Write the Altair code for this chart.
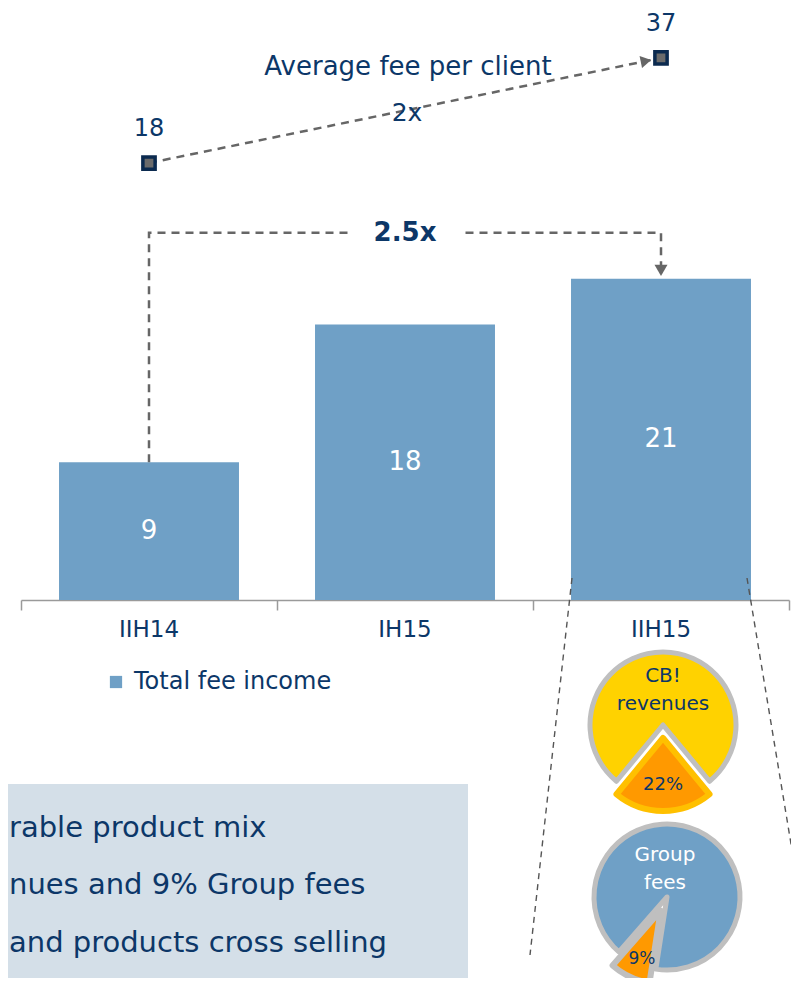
import math
import altair as alt
import pandas as pd

# ---------------- data ----------------
periods = ['IIH14', 'IH15', 'IIH15']
total_fee_income = [9, 18, 21]
avg_fee_periods = ['IIH14', 'IIH15']
avg_fee_per_client = [18, 37]
fee_growth_label = '2.5x'
avg_fee_growth_label = '2x'
avg_fee_title = 'Average fee per client'
legend_label = 'Total fee income'
cb_parts = ['Other', 'CB! revenues']
cb_share = [78, 22]
group_parts = ['Other', 'Group fees']
group_share = [91, 9]
box_lines = ['rable product mix', 'nues and 9% Group fees', 'and products cross selling']

# ---------------- style / layout ----------------
NAVY = '#0c3768'
BAR = '#6fa0c6'
DASH = '#666666'
FONT = 'DejaVu Sans'
W, H = 783, 970
Y0 = 592
PX_PER_UNIT = 15.3

X_SCALE = alt.Scale(domain=periods, range=[13, 781], paddingInner=0, paddingOuter=0)
Y_BAR = alt.Scale(domain=[0, 30], range=[Y0, Y0 - 30 * PX_PER_UNIT])
Y_TOP = alt.Scale(domain=[0, 40], range=[254.5, 33.4])
X_AXIS = alt.Axis(orient='bottom', offset=Y0 - H, bandPosition=1, tickExtra=True,
                  tickSize=10, tickColor='#9a9a9a', tickWidth=1.5,
                  domainColor='#9a9a9a', domainWidth=1.5, grid=False,
                  labelFontSize=23, labelColor=NAVY, labelFont=FONT,
                  labelPadding=8, labelAngle=0, title=None)


def X(field='period'):
    return alt.X(f'{field}:N', scale=X_SCALE, axis=X_AXIS)


one = pd.DataFrame({'k': [0]})

# ---------------- text box (background) ----------------
box = alt.Chart(one).mark_rect(color='#d4dfe8').encode(
    x=alt.value(0), x2=alt.value(460), y=alt.value(776), y2=alt.value(H))
box_text = []
for t, yb in zip(box_lines, [829, 886, 944]):
    box_text.append(alt.Chart(one).mark_text(
        text=t, align='left', baseline='alphabetic', fontSize=29,
        font=FONT, color=NAVY).encode(x=alt.value(1), y=alt.value(yb)))

# ---------------- bars ----------------
bars_df = pd.DataFrame({'period': periods, 'value': total_fee_income,
                        'series': [legend_label] * len(periods)})
bars = alt.Chart(bars_df).mark_bar(width=alt.RelativeBandSize(0.703)).encode(
    x=X(),
    y=alt.Y('value:Q', scale=Y_BAR, axis=None),
    color=alt.Color('series:N', scale=alt.Scale(range=[BAR]),
                    legend=alt.Legend(title=None, orient='none', legendX=96, legendY=662,
                                      symbolType='square', symbolSize=150,
                                      symbolStrokeWidth=0, labelFontSize=24,
                                      labelFont=FONT, labelColor=NAVY, labelLimit=400,
                                      labelOffset=6, padding=0)))
bar_labels = alt.Chart(bars_df).transform_calculate(mid='datum.value / 2').mark_text(
    color='white', fontSize=26, font=FONT, baseline='middle').encode(
    x=X(), y=alt.Y('mid:Q', scale=Y_BAR, axis=None), text='value:Q')

# ---------------- 2.5x bracket ----------------
level = max(total_fee_income) + 3
bracket_df = pd.DataFrame({'period': [periods[0], periods[0], periods[-1], periods[-1]],
                           'v': [total_fee_income[0], level, level, total_fee_income[-1] + 0.9],
                           'o': [0, 1, 2, 3]})
bracket = alt.Chart(bracket_df).mark_line(color=DASH, strokeWidth=2.5, strokeDash=[8, 6]).encode(
    x=X(), y=alt.Y('v:Q', scale=Y_BAR, axis=None), order='o:Q')
gap_df = pd.DataFrame({'period': [periods[1]], 'a': [level - 0.6], 'b': [level + 0.6]})
gap = alt.Chart(gap_df).mark_bar(color='white', width=112).encode(
    x=X(), y=alt.Y('a:Q', scale=Y_BAR, axis=None), y2='b:Q')
g_df = pd.DataFrame({'period': [periods[1]], 'v': [level], 't': [fee_growth_label]})
g_text = alt.Chart(g_df).mark_text(fontSize=26, fontWeight='bold', font=FONT, color=NAVY,
                                   baseline='middle').encode(
    x=X(), y=alt.Y('v:Q', scale=Y_BAR, axis=None), text='t:N')
arr_df = pd.DataFrame({'period': [periods[-1]], 'v': [total_fee_income[-1] + 0.55]})
arrow_down = alt.Chart(arr_df).mark_point(shape='triangle-down', size=170, filled=True,
                                          color=DASH, opacity=1).encode(
    x=X(), y=alt.Y('v:Q', scale=Y_BAR, axis=None))

# ---------------- average fee per client ----------------
avg_df = pd.DataFrame({'period': avg_fee_periods, 'value': avg_fee_per_client})
top_line = alt.Chart(avg_df).mark_line(color=DASH, strokeWidth=2.5, strokeDash=[8, 6]).encode(
    x=X(), y=alt.Y('value:Q', scale=Y_TOP, axis=None))
dxp = 512.0
dyp = (avg_fee_per_client[1] - avg_fee_per_client[0]) * (254.5 - 33.4) / 40
ang = (360 - math.degrees(math.atan2(dyp, dxp))) % 360
top_arrow = alt.Chart(avg_df.iloc[[-1]]).mark_point(
    shape='triangle-right', angle=ang, size=150, filled=True, color=DASH, opacity=1,
    xOffset=-15, yOffset=3).encode(x=X(), y=alt.Y('value:Q', scale=Y_TOP, axis=None))
markers = alt.Chart(avg_df).mark_point(shape='square', size=150, filled=True, fill='#6b6b6b',
                                       stroke='#0b2a4f', strokeWidth=3.5, opacity=1).encode(
    x=X(), y=alt.Y('value:Q', scale=Y_TOP, axis=None))
marker_labels = alt.Chart(avg_df).mark_text(dy=-34, fontSize=24, font=FONT, color=NAVY,
                                            baseline='middle').encode(
    x=X(), y=alt.Y('value:Q', scale=Y_TOP, axis=None), text='value:Q')
top_title = alt.Chart(one).mark_text(text=avg_fee_title, fontSize=26, font=FONT, color=NAVY,
                                     baseline='middle').encode(x=alt.value(400), y=alt.value(59))
top_growth = alt.Chart(one).mark_text(text=avg_fee_growth_label, fontSize=25, font=FONT,
                                      color=NAVY, baseline='middle').encode(
    x=alt.value(399), y=alt.value(105))

# ---------------- pies ----------------
def pie(parts, shares, cx, cy, center_deg, explode, fill_main, fill_hi, stroke_hi,
        name_xy, name_color, pct_xy, pct_size, r=73):
    cum = [0]
    for s in shares:
        cum.append(cum[-1] + s)
    df = pd.DataFrame({'part': parts, 'share': shares, 'start': cum[:-1], 'end': cum[1:]})
    hi_frac = shares[-1] / sum(shares)
    start = math.radians(center_deg + hi_frac * 180)
    sc = alt.Scale(domain=[0, sum(shares)], range=[start, start + 2 * math.pi])
    main = alt.Chart(df.iloc[[0]]).mark_arc(outerRadius=r, fill=fill_main, stroke='#bfbfbf',
                                            strokeWidth=5, strokeJoin='round').encode(
        theta=alt.Theta('start:Q', scale=sc, stack=False), theta2='end:Q',
        x=alt.value(cx), y=alt.value(cy))
    ex = explode * math.sin(math.radians(center_deg))
    ey = -explode * math.cos(math.radians(center_deg))
    hi = alt.Chart(df.iloc[[1]]).mark_arc(outerRadius=r, fill=fill_hi, stroke=stroke_hi,
                                          strokeWidth=6, strokeJoin='round').encode(
        theta=alt.Theta('start:Q', scale=sc, stack=False), theta2='end:Q',
        x=alt.value(cx + ex), y=alt.value(cy + ey))
    name = alt.Chart(df.iloc[[1]]).mark_text(lineBreak=' ', lineHeight=28, fontSize=20,
                                             font=FONT, color=name_color,
                                             baseline='middle').encode(
        x=alt.value(name_xy[0]), y=alt.value(name_xy[1]), text='part:N')
    pct = alt.Chart(df.iloc[[1]]).transform_calculate(
        lbl="datum.share + '%'").mark_text(fontSize=pct_size, font=FONT, color=NAVY,
                                           baseline='middle').encode(
        x=alt.value(pct_xy[0]), y=alt.value(pct_xy[1]), text='lbl:N')
    return [main, hi, name, pct]


cb_layers = pie(cb_parts, cb_share, 655, 717, 180, 13, '#ffd200', '#ff9900', '#ffc000',
                (655, 668), NAVY, (655, 777), 18)
gr_layers = pie(group_parts, group_share, 659, 889, 205, 15, BAR, '#ff9900', '#bfbfbf',
                (657, 847), 'white', (634, 951), 17)

conn_l = alt.Chart(one).mark_rule(color='#555555', strokeWidth=1.4, strokeDash=[6, 5]).encode(
    x=alt.value(564), y=alt.value(570), x2=alt.value(522), y2=alt.value(947))
conn_r = alt.Chart(one).mark_rule(color='#555555', strokeWidth=1.4, strokeDash=[6, 5]).encode(
    x=alt.value(739), y=alt.value(570), x2=alt.value(789), y2=alt.value(872))

chart = alt.layer(
    box, *box_text, bars, bar_labels, bracket, gap, g_text, arrow_down,
    top_line, top_title, top_growth, top_arrow, markers, marker_labels,
    conn_l, conn_r, *cb_layers, *gr_layers
).resolve_scale(y='independent', theta='independent').properties(
    width=W, height=H, padding=0, autosize=alt.AutoSizeParams(type='none')
).configure_view(stroke=None)

chart.save('out.html', embed_options={'renderer': 'svg', 'actions': False})
